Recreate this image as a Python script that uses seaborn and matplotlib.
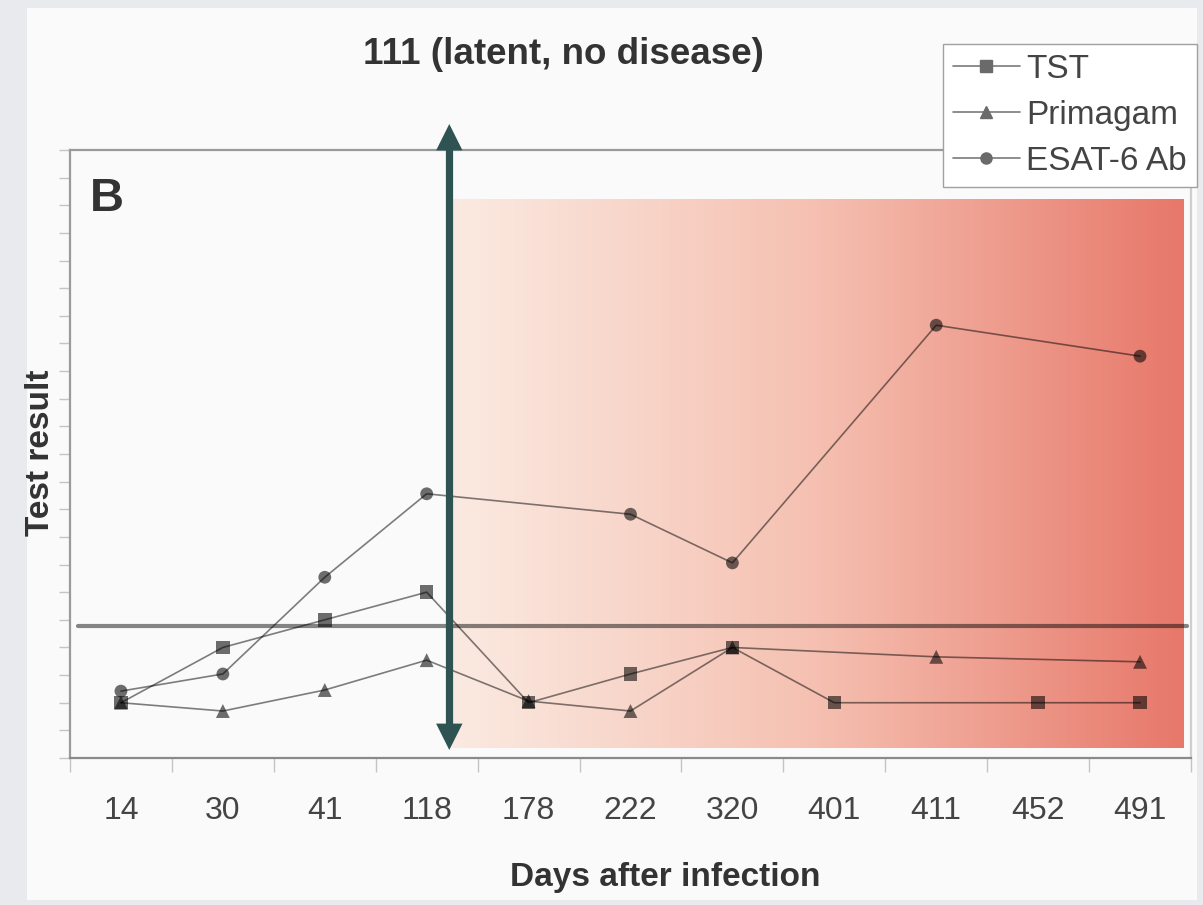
import numpy as np
import pandas as pd
import matplotlib
matplotlib.use("Agg")
import matplotlib.pyplot as plt
import seaborn as sns
from matplotlib.patches import Rectangle, FancyArrowPatch, ArrowStyle
from matplotlib.lines import Line2D
from matplotlib.colors import LinearSegmentedColormap

# ---------------- data ----------------
days = ["14", "30", "41", "118", "178", "222", "320", "401", "411", "452", "491"]
tst = [1.0, 2.0, 2.5, 3.0, 1.0, 1.52, 2.0, 1.0, np.nan, 1.0, 1.0]
primagam = [1.0, 0.85, 1.23, 1.77, 1.03, 0.85, 2.0, np.nan, 1.83, np.nan, 1.74]
esat6 = [1.21, 1.52, 3.27, 4.78, np.nan, 4.41, 3.53, np.nan, 7.83, np.nan, 7.27]
series_names = ["TST", "Primagam", "ESAT-6 Ab"]
series_markers = ["s", "^", "o"]
threshold = 2.39
title = "111 (latent, no disease)"
xlabel = "Days after infection"
ylabel = "Test result"
panel = "B"

sns.set_theme(style="white")
plt.rcParams["font.family"] = ["Liberation Sans", "DejaVu Sans"]

W, H = 1203, 905
fig = plt.figure(figsize=(W / 100, H / 100), dpi=100)
fig.patch.set_facecolor("#e9eaee")
card = Rectangle((27 / W, 1 - 900 / H), (1197 - 27) / W, (900 - 8) / H,
                 transform=fig.transFigure, facecolor="#fafafa",
                 edgecolor="none", zorder=-5)
fig.patches.append(card)

ax = fig.add_axes([70 / W, 1 - 758 / H, (1191 - 70) / W, (758 - 150) / H])
ax.set_zorder(1)
ax.set_facecolor("#fafafa")

# gradient (disease phase)
cmap = LinearSegmentedColormap.from_list(
    "g", [(251 / 255, 234 / 255, 225 / 255), (245 / 255, 192 / 255, 177 / 255),
          (231 / 255, 120 / 255, 106 / 255)])
grad = np.linspace(0, 1, 256).reshape(1, -1)
ax.imshow(grad, cmap=cmap, aspect="auto", extent=[3.252, 10.43, 0.18, 10.1],
          zorder=1, interpolation="bicubic")

# series (TST markers on top, as in the original)
idx = np.arange(len(days))
marker_z = {"s": 4.6, "^": 4.2, "o": 4.4}
for vals, mk in zip([tst, primagam, esat6], series_markers):
    df = pd.DataFrame({"x": idx, "y": vals}).dropna()
    sns.lineplot(data=df, x="x", y="y", color="black", alpha=0.5, lw=1.2,
                 ax=ax, zorder=3, legend=False)
    size = {"s": 95, "^": 100, "o": 85}[mk]
    sns.scatterplot(data=df, x="x", y="y", marker=mk, color="black", alpha=0.57,
                    s=size, edgecolor="none", ax=ax, zorder=marker_z[mk],
                    legend=False)

ax.set_xlim(-0.5, 10.5)
ax.set_ylim(0, 11)

# threshold line
ax.axhline(threshold, xmin=0.007, xmax=0.996, color="black", alpha=0.47,
           lw=3.0, zorder=3.5)

# double arrow: filled heads + straight shaft
x_arrow, y_top, y_bot = 3.222, 11.47, 0.145
heads = FancyArrowPatch((x_arrow, y_top), (x_arrow, y_bot),
                        arrowstyle=ArrowStyle("<|-|>", head_length=19, head_width=9.5),
                        mutation_scale=1, facecolor="#2f5352", edgecolor="none",
                        lw=0, shrinkA=0, shrinkB=0, zorder=6, clip_on=False)
ax.add_patch(heads)
ax.plot([x_arrow, x_arrow], [y_top - 0.4, y_bot + 0.4], color="#2f5352",
        lw=5.2, solid_capstyle="butt", zorder=6, clip_on=False)

# axes styling
ax.set_xticks(idx)
ax.set_xticklabels(days)
ax.set_xticks(np.arange(-0.5, 11, 1), minor=True)
ax.set_yticks(np.arange(0, 11.01, 1))
ax.set_yticks(np.arange(0.5, 11, 1), minor=True)
ax.set_yticklabels([])
ax.tick_params(axis="x", which="major", length=0, pad=27, labelsize=23,
               labelcolor="#444444")
ax.tick_params(axis="x", which="minor", length=10, width=1, color="#c4c4c4",
               direction="out", bottom=True)
ax.tick_params(axis="y", which="both", length=8, width=1, color="#c4c4c4",
               direction="out", left=True)
ax.set_xlabel("")
ax.set_ylabel("")
for side, sp in ax.spines.items():
    sp.set_visible(True)
    sp.set_linewidth(1.6)
ax.spines["left"].set_color("#9a9a9a")
ax.spines["top"].set_color("#9a9a9a")
ax.spines["bottom"].set_color("#8a8a8a")
ax.spines["right"].set_color("#cfcfcf")

ax.text(0.018, 0.955, panel, transform=ax.transAxes, fontsize=34,
        fontweight="bold", color="#333333", va="top", ha="left", zorder=7)

fig.text(563 / W, 1 - 55 / H, title, ha="center", va="center", fontsize=26.5,
         fontweight="bold", color="#333333")
fig.text(665 / W, 1 - 877 / H, xlabel, ha="center", va="center", fontsize=24,
         fontweight="bold", color="#333333")
fig.text(41 / W, 1 - 453 / H, ylabel, ha="center", va="center", fontsize=24,
         fontweight="bold", color="#333333", rotation=90)

handles = [Line2D([0], [0], color="#7a7a7a", lw=1.2, marker=m, markersize=8,
                  markerfacecolor="#6a6a6a", markeredgecolor="#6a6a6a")
           for m in series_markers]
leg = fig.legend(handles, series_names, loc="upper right",
                 bbox_to_anchor=(1197 / W, 1 - 44 / H), fontsize=24,
                 frameon=True, fancybox=False, framealpha=1, facecolor="white",
                 edgecolor="#a0a0a0", handlelength=2.0, handletextpad=0.2,
                 labelspacing=0.45, borderpad=0.3, borderaxespad=0)
for t in leg.get_texts():
    t.set_color("#444444")
leg.set_zorder(10)

fig.savefig("out.png", dpi=100, facecolor=fig.get_facecolor())
